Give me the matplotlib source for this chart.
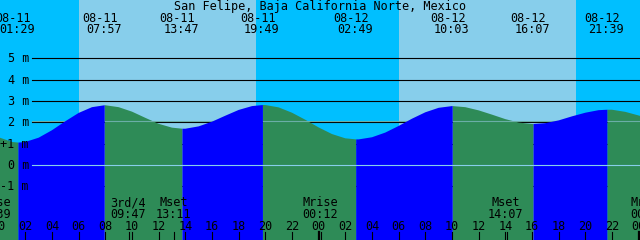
import numpy as np
import matplotlib
matplotlib.use("Agg")
import matplotlib.pyplot as plt

# tide table (high / low water)
ext_dates = ['08-11', '08-11', '08-11', '08-11', '08-12', '08-12', '08-12', '08-12']
ext_times = ['01:29', '07:57', '13:47', '19:49', '02:49', '10:03', '16:07', '21:39']
ext_kind = ['L', 'H', 'L', 'H', 'L', 'H', 'L', 'H']
ext_heights = [1.05, 2.80, 1.70, 2.81, 1.20, 2.76, 1.92, 2.59]

# water level, hour by hour from 08-11 00:00
hours = list(range(0, 50))
heights = [1.30, 1.08, 1.08, 1.28, 1.63, 2.05, 2.44, 2.71, 2.80, 2.71,
           2.50, 2.21, 1.93, 1.75, 1.70, 1.81, 2.03, 2.31, 2.58, 2.76,
           2.81, 2.70, 2.45, 2.12, 1.76, 1.45, 1.25, 1.20, 1.30, 1.52,
           1.83, 2.17, 2.47, 2.68, 2.76, 2.71, 2.56, 2.36, 2.15, 1.99,
           1.92, 1.96, 2.09, 2.28, 2.45, 2.57, 2.59, 2.49, 2.32, 2.15]

# daylight
sun_dates = ['08-11', '08-11', '08-12', '08-12']
sun_times = ['06:00', '19:20', '06:00', '19:20']

# moon events
moon_dates = ['08-10', '08-11', '08-11', '08-12', '08-12', '08-13']
moon_labels = ['Mrise', '3rd/4', 'Mset', 'Mrise', 'Mset', 'Mrise']
moon_times = ['23:39', '09:47', '13:11', '00:12', '14:07', '00:46']

level_marks = [5, 4, 3, 2, 1, 0, -1]
level_labels = ['5 m', '4 m', '3 m', '2 m', '+1 m', '0 m', '-1 m']
msl = 2.07

title = 'San Felipe, Baja California Norte, Mexico'


def to_hours(d, t):
    day = {'08-10': -1, '08-11': 0, '08-12': 1, '08-13': 2}[d]
    hh, mm = t.split(':')
    return day * 24 + int(hh) + int(mm) / 60


# pixel <-> data helpers
PX_H = 640 / 48
H0 = 0.1
PX_M = 21.34
Y0 = 165


def px(p):
    return H0 + p / PX_H


def py(p):
    return (Y0 - p) / PX_M


NIGHT = '#00BFFF'
DAY = '#87CEEB'
RISE = '#0000FF'
FALL = '#2E8B57'
FONT = dict(family='DejaVu Sans Mono', fontsize=8.5, color='black')

ext_h = [to_hours(d, t) for d, t in zip(ext_dates, ext_times)]
sun_h = [to_hours(d, t) for d, t in zip(sun_dates, sun_times)]

pts = sorted(list(zip(hours, heights)) + list(zip(ext_h, ext_heights)))
x = np.array([p[0] for p in pts])
y = np.array([p[1] for p in pts])

rising = np.zeros(len(x), bool)
falling = np.zeros(len(x), bool)
for i, xv in enumerate(x):
    idx = np.searchsorted(ext_h, xv, side='right') - 1
    kind = 'H' if idx < 0 else ext_kind[idx]
    if kind == 'L':
        rising[i] = True
    else:
        falling[i] = True
    if xv in ext_h:
        rising[i] = falling[i] = True

fig = plt.figure(figsize=(6.4, 2.4), dpi=100)
ax = fig.add_axes([0, 0, 1, 1])
x_lo, x_hi = H0, H0 + 48
y_lo, y_hi = py(240), py(0)
ax.set_xlim(x_lo, x_hi)
ax.set_ylim(y_lo, y_hi)
ax.axis('off')

# night / day background
ax.axvspan(x_lo, x_hi, color=NIGHT, zorder=0, lw=0)
for a, b in zip(sun_h[0::2], sun_h[1::2]):
    ax.axvspan(a, b, color=DAY, zorder=0, lw=0)

# level lines
for lv in level_marks:
    if lv != 0:
        ax.plot([px(32), x_hi], [lv, lv], color='black', lw=0.8, zorder=1)

# water
ax.fill_between(x, y_lo, y, where=falling, color=FALL, lw=0, zorder=2)
ax.plot([px(32), x_hi], [msl, msl], color='#6aaea6', lw=0.8, zorder=3)
ax.fill_between(x, y_lo, y, where=rising, color=RISE, lw=0, zorder=4)
ax.plot([px(32), x_hi], [0, 0], color='#87CEEB', lw=0.8, zorder=5)

# level labels
for lv, lab in zip(level_marks, level_labels):
    ax.text(px(29), lv - 4 / PX_M, lab, ha='right', va='baseline', zorder=6, **FONT)

# title and high/low labels
ax.text(320 / PX_H + H0, py(9.5), title, ha='center', va='baseline', zorder=6, **FONT)
for d, t, h in zip(ext_dates, ext_times, ext_h):
    ax.text(h - 5 / PX_H, py(21.7), d, ha='center', va='baseline', zorder=6, **FONT)
    ax.text(h - 1 / PX_H, py(33.3), t, ha='center', va='baseline', zorder=6, **FONT)

# moon events
for d, lab, t in zip(moon_dates, moon_labels, moon_times):
    h = to_hours(d, t)
    ax.text(h - 1 / PX_H, py(206), lab, ha='center', va='baseline', zorder=6, **FONT)
    ax.text(h - 1 / PX_H, py(217.7), t, ha='center', va='baseline', zorder=6, **FONT)
    ax.plot([h, h], [py(232), y_lo], color='black', lw=0.8, zorder=6)

# hour axis
for hr in range(0, 50, 2):
    ax.text(hr, py(230), '%02d' % (hr % 24), ha='center', va='baseline', zorder=6, **FONT)
    ax.plot([hr, hr], [py(232), y_lo], color='black',
            lw=1.6 if hr % 24 == 0 else 0.8, zorder=6)

fig.savefig('out.png', dpi=100)
